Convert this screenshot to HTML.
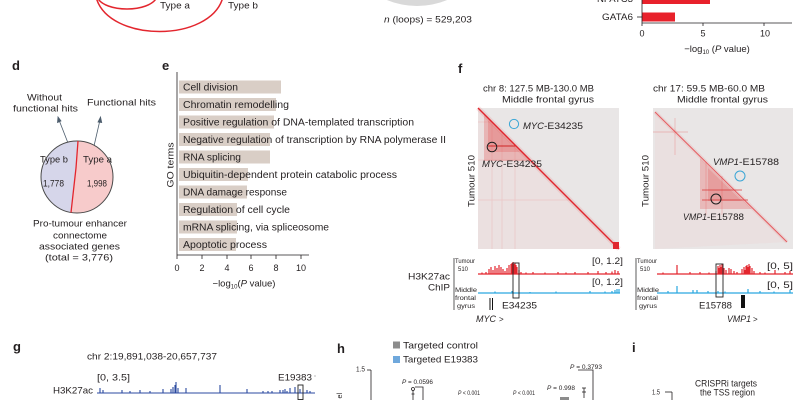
<!DOCTYPE html>
<html><head><meta charset="utf-8">
<style>
html,body{margin:0;padding:0;background:#fff;}
body{width:800px;height:400px;overflow:hidden;}
svg{display:block;}
svg text{font-family:"Liberation Sans",Arial,sans-serif;fill:#231f20;}
.b{font-weight:bold;}
.it{font-style:italic;}
</style></head>
<body>
<svg width="800" height="400" viewBox="0 0 800 400" xmlns="http://www.w3.org/2000/svg">
<rect width="800" height="400" fill="#fff"/>

<!-- ===== Top strip ===== -->
<path d="M96,-3 C108,43 211,43 223,-3" fill="none" stroke="#e3262e" stroke-width="1.5"/>
<path d="M97,-3 C104,13 150,13 157,-3" fill="none" stroke="#e3262e" stroke-width="1.5"/>
<text x="160" y="8.4" font-size="9.5" textLength="30" lengthAdjust="spacingAndGlyphs">Type a</text>
<text x="228" y="8.4" font-size="9.5" textLength="30" lengthAdjust="spacingAndGlyphs">Type b</text>

<circle cx="417" cy="-72" r="78" fill="#d9d9d9"/>
<circle cx="417" cy="-72" r="72" fill="#e2e2e2"/>
<text x="384" y="22.3" font-size="9" textLength="88" lengthAdjust="spacingAndGlyphs"><tspan class="it">n</tspan> (loops) = 529,203</text>

<!-- top-right bar chart -->
<rect x="642" y="-5" width="68" height="9" fill="#e8212b"/>
<rect x="642" y="12.5" width="33" height="9" fill="#e8212b"/>
<text x="597" y="2.2" font-size="9" textLength="36" lengthAdjust="spacingAndGlyphs">NFATC3</text>
<text x="602" y="20.2" font-size="9" textLength="31" lengthAdjust="spacingAndGlyphs">GATA6</text>
<g stroke="#231f20" stroke-width="0.8">
<line x1="637" y1="-1" x2="642" y2="-1"/>
<line x1="637" y1="17" x2="642" y2="17"/>
<line x1="642" y1="0" x2="642" y2="23"/>
<line x1="642" y1="23" x2="792" y2="23"/>
<line x1="642" y1="23" x2="642" y2="26"/>
<line x1="703" y1="23" x2="703" y2="26"/>
<line x1="764" y1="23" x2="764" y2="26"/>
</g>
<text x="642" y="36.5" font-size="9" text-anchor="middle">0</text>
<text x="703" y="36.5" font-size="9" text-anchor="middle">5</text>
<text x="765" y="36.5" font-size="9" text-anchor="middle">10</text>
<text x="717" y="52" font-size="9.5" text-anchor="middle">−log<tspan font-size="6" dy="2">10</tspan><tspan dy="-2"> (</tspan><tspan class="it">P</tspan> value)</text>

<!-- ===== Panel d ===== -->
<text class="b" x="12" y="70" font-size="13">d</text>
<text x="27" y="100.4" font-size="9.5" textLength="35" lengthAdjust="spacingAndGlyphs">Without</text>
<text x="13" y="111.4" font-size="9.5" textLength="65" lengthAdjust="spacingAndGlyphs">functional hits</text>
<text x="87" y="105.4" font-size="9.5" textLength="69" lengthAdjust="spacingAndGlyphs">Functional hits</text>
<g stroke="#4d5d6d" stroke-width="0.8" fill="#4d5d6d">
<line x1="68" y1="143" x2="59" y2="120"/>
<path d="M58,117 L57.5,122.5 L61,121 Z"/>
<line x1="94" y1="146" x2="100" y2="120"/>
<path d="M100.5,117 L98,122 L101.7,122.5 Z"/>
</g>
<path d="M78,141 A36,36 0 0 0 71,212.5 L76,168 Z" fill="#d6d6ea"/>
<path d="M78,141 A36,36 0 1 1 71,212.5 L76,168 Z" fill="#f7cbcb"/>
<circle cx="77" cy="177" r="36" fill="none" stroke="#4a4a4a" stroke-width="1"/>
<path d="M78,141 L76,168 L71,212.5" fill="none" stroke="#e3262e" stroke-width="1.3"/>
<text x="40" y="162.4" font-size="9.5" textLength="28" lengthAdjust="spacingAndGlyphs">Type b</text>
<text x="83" y="162.4" font-size="9.5" textLength="29" lengthAdjust="spacingAndGlyphs">Type a</text>
<text x="43" y="186.4" font-size="9.5" textLength="21" lengthAdjust="spacingAndGlyphs">1,778</text>
<text x="87" y="186.4" font-size="9.5" textLength="20" lengthAdjust="spacingAndGlyphs">1,998</text>
<text x="33" y="226.4" font-size="9.5" textLength="94" lengthAdjust="spacingAndGlyphs">Pro-tumour enhancer</text>
<text x="53" y="238.4" font-size="9.5" textLength="54" lengthAdjust="spacingAndGlyphs">connectome</text>
<text x="39" y="249.4" font-size="9.5" textLength="81" lengthAdjust="spacingAndGlyphs">associated genes</text>
<text x="45" y="260.4" font-size="9.5" textLength="68" lengthAdjust="spacingAndGlyphs">(total = 3,776)</text>

<!-- ===== Panel e ===== -->
<text class="b" x="162" y="70" font-size="13">e</text>
<text transform="translate(173.5,165) rotate(-90)" font-size="9.5" text-anchor="middle" textLength="45" lengthAdjust="spacingAndGlyphs">GO terms</text>
<g fill="#d9cec6">
<rect x="179" y="80.5" width="102" height="13"/>
<rect x="179" y="98" width="97" height="13"/>
<rect x="179" y="115.5" width="95" height="13"/>
<rect x="179" y="133" width="91" height="13"/>
<rect x="179" y="150.5" width="91" height="13"/>
<rect x="179" y="168" width="69" height="13"/>
<rect x="179" y="185.5" width="68" height="13"/>
<rect x="179" y="203" width="58" height="13"/>
<rect x="179" y="220.5" width="58" height="13"/>
<rect x="179" y="238" width="57" height="13"/>
</g>
<g font-size="10">
<text x="183" y="90.6" textLength="55" lengthAdjust="spacingAndGlyphs">Cell division</text>
<text x="183" y="108.1" textLength="106" lengthAdjust="spacingAndGlyphs">Chromatin remodelling</text>
<text x="183" y="125.6" textLength="231" lengthAdjust="spacingAndGlyphs">Positive regulation of DNA-templated transcription</text>
<text x="183" y="143.1" textLength="263" lengthAdjust="spacingAndGlyphs">Negative regulation of transcription by RNA polymerase II</text>
<text x="183" y="160.6" textLength="58" lengthAdjust="spacingAndGlyphs">RNA splicing</text>
<text x="183" y="178.1" textLength="214" lengthAdjust="spacingAndGlyphs">Ubiquitin-dependent protein catabolic process</text>
<text x="183" y="195.6" textLength="104" lengthAdjust="spacingAndGlyphs">DNA damage response</text>
<text x="183" y="213.1" textLength="107" lengthAdjust="spacingAndGlyphs">Regulation of cell cycle</text>
<text x="183" y="230.6" textLength="146" lengthAdjust="spacingAndGlyphs">mRNA splicing, via spliceosome</text>
<text x="183" y="248.1" textLength="84" lengthAdjust="spacingAndGlyphs">Apoptotic process</text>
</g>
<g stroke="#231f20" stroke-width="0.8">
<line x1="177" y1="72" x2="177" y2="255"/>
<line x1="177" y1="255" x2="309" y2="255"/>
<line x1="177" y1="255" x2="177" y2="259"/>
<line x1="202" y1="255" x2="202" y2="259"/>
<line x1="227" y1="255" x2="227" y2="259"/>
<line x1="251" y1="255" x2="251" y2="259"/>
<line x1="276" y1="255" x2="276" y2="259"/>
<line x1="301" y1="255" x2="301" y2="259"/>
</g>
<g font-size="9" text-anchor="middle">
<text x="177" y="271">0</text><text x="202" y="271">2</text><text x="227" y="271">4</text>
<text x="251" y="271">6</text><text x="276" y="271">8</text><text x="301" y="271">10</text>
</g>
<text x="244" y="286.5" font-size="9.5" text-anchor="middle">−log<tspan font-size="6" dy="2">10</tspan><tspan dy="-2">(</tspan><tspan class="it">P</tspan> value)</text>

<!-- ===== Panel f ===== -->
<text class="b" x="458" y="73" font-size="13">f</text>
<text x="483" y="91.4" font-size="9.5" textLength="111" lengthAdjust="spacingAndGlyphs">chr 8: 127.5 MB-130.0 MB</text>
<text x="502" y="102.4" font-size="9.5" textLength="92" lengthAdjust="spacingAndGlyphs">Middle frontal gyrus</text>
<text x="653" y="91.4" font-size="9.5" textLength="112" lengthAdjust="spacingAndGlyphs">chr 17: 59.5 MB-60.0 MB</text>
<text x="677" y="102.4" font-size="9.5" textLength="91" lengthAdjust="spacingAndGlyphs">Middle frontal gyrus</text>
<text transform="translate(474.5,181) rotate(-90)" font-size="9.5" text-anchor="middle" textLength="52" lengthAdjust="spacingAndGlyphs">Tumour 510</text>
<text transform="translate(648.5,181) rotate(-90)" font-size="9.5" text-anchor="middle" textLength="52" lengthAdjust="spacingAndGlyphs">Tumour 510</text>

<!-- left heatmap -->
<rect x="478" y="108" width="141" height="141" fill="#e9e6e6"/>
<polygon points="478,108 619,249 478,249" fill="#efcfcf" opacity="0.28"/>
<g stroke="#eab0b0" stroke-width="0.8" opacity="0.55">
<line x1="492" y1="122" x2="492" y2="249"/>
<line x1="502" y1="132" x2="502" y2="249"/>
<line x1="515" y1="145" x2="515" y2="249"/>
<line x1="478" y1="122" x2="492" y2="122"/>
<line x1="478" y1="160" x2="530" y2="160"/>
<line x1="478" y1="200" x2="570" y2="200"/>
</g>
<polygon points="484,113 532,161 484,161" fill="#e44848" opacity="0.28"/>
<polygon points="488,120 520,152 488,152" fill="#e03030" opacity="0.2"/>
<line x1="488" y1="146" x2="516" y2="146" stroke="#d02525" stroke-width="1"/>
<line x1="478" y1="108" x2="619" y2="249" stroke="#e44848" stroke-width="5" opacity="0.13"/>
<line x1="478" y1="108" x2="619" y2="249" stroke="#e0262e" stroke-width="1.4"/>
<rect x="613" y="242" width="6" height="7" fill="#e0262e"/>
<circle cx="514" cy="124" r="4.6" fill="none" stroke="#3aa6d6" stroke-width="1"/>
<circle cx="492" cy="147" r="4.8" fill="none" stroke="#1e1e1e" stroke-width="1"/>
<text class="it" x="523" y="129.2" font-size="9" textLength="21" lengthAdjust="spacingAndGlyphs">MYC</text>
<text x="544" y="129.2" font-size="9" textLength="39" lengthAdjust="spacingAndGlyphs">-E34235</text>
<text class="it" x="482" y="167.2" font-size="9" textLength="21" lengthAdjust="spacingAndGlyphs">MYC</text>
<text x="503" y="167.2" font-size="9" textLength="39" lengthAdjust="spacingAndGlyphs">-E34235</text>

<!-- right heatmap -->
<rect x="653" y="108" width="140" height="141" fill="#e9e6e6"/>
<polygon points="655,112 787,242 655,249" fill="#efcfcf" opacity="0.22"/>
<g stroke="#e8a0a0" stroke-width="0.9" opacity="0.65">
<line x1="653" y1="132" x2="688" y2="132"/>
<line x1="675" y1="118" x2="675" y2="155"/>
<line x1="706" y1="162" x2="706" y2="215"/>
<line x1="722" y1="176" x2="722" y2="215"/>
</g>
<polygon points="700,158 752,209 700,209" fill="#e44848" opacity="0.26"/>
<polygon points="708,168 742,201 708,201" fill="#e03030" opacity="0.2"/>
<line x1="702" y1="190" x2="742" y2="190" stroke="#d83030" stroke-width="0.9" opacity="0.7"/>
<line x1="702" y1="200" x2="748" y2="200" stroke="#d83030" stroke-width="0.9" opacity="0.7"/>
<line x1="655" y1="112" x2="787" y2="242" stroke="#e44848" stroke-width="4" opacity="0.1"/>
<line x1="655" y1="112" x2="787" y2="242" stroke="#e4343a" stroke-width="1" opacity="0.75"/>
<circle cx="740" cy="176" r="5" fill="none" stroke="#3aa6d6" stroke-width="1"/>
<circle cx="716" cy="199" r="5" fill="none" stroke="#1e1e1e" stroke-width="1"/>
<text class="it" x="713" y="165.2" font-size="9" textLength="26" lengthAdjust="spacingAndGlyphs">VMP1</text>
<text x="739" y="165.2" font-size="9" textLength="40" lengthAdjust="spacingAndGlyphs">-E15788</text>
<text class="it" x="683" y="220.2" font-size="9" textLength="24" lengthAdjust="spacingAndGlyphs">VMP1</text>
<text x="707" y="220.2" font-size="9" textLength="37" lengthAdjust="spacingAndGlyphs">-E15788</text>

<!-- tracks -->
<text x="408" y="279.4" font-size="9.5" textLength="42" lengthAdjust="spacingAndGlyphs">H3K27ac</text>
<text x="428" y="290.4" font-size="9.5" textLength="22" lengthAdjust="spacingAndGlyphs">ChIP</text>
<line x1="454" y1="258" x2="454" y2="310" stroke="#333" stroke-width="0.8"/>
<line x1="636" y1="258" x2="636" y2="310" stroke="#333" stroke-width="0.8"/>
<g font-size="6">
<text x="455" y="263.2" textLength="20" lengthAdjust="spacingAndGlyphs">Tumour</text>
<text x="458" y="271.2" textLength="10" lengthAdjust="spacingAndGlyphs">510</text>
<text x="455" y="292.2" textLength="22" lengthAdjust="spacingAndGlyphs">Middle</text>
<text x="455" y="300.2" textLength="21" lengthAdjust="spacingAndGlyphs">frontal</text>
<text x="457" y="308.2" textLength="18" lengthAdjust="spacingAndGlyphs">gyrus</text>
<text x="637" y="263.2" textLength="20" lengthAdjust="spacingAndGlyphs">Tumour</text>
<text x="640" y="271.2" textLength="10" lengthAdjust="spacingAndGlyphs">510</text>
<text x="637" y="292.2" textLength="22" lengthAdjust="spacingAndGlyphs">Middle</text>
<text x="637" y="300.2" textLength="21" lengthAdjust="spacingAndGlyphs">frontal</text>
<text x="639" y="308.2" textLength="18" lengthAdjust="spacingAndGlyphs">gyrus</text>
</g>
<text x="592" y="264.2" font-size="9" textLength="31" lengthAdjust="spacingAndGlyphs">[0, 1.2]</text>
<text x="592" y="285.2" font-size="9" textLength="31" lengthAdjust="spacingAndGlyphs">[0, 1.2]</text>
<text x="767" y="269.2" font-size="9" textLength="26" lengthAdjust="spacingAndGlyphs">[0, 5]</text>
<text x="767" y="288.2" font-size="9" textLength="26" lengthAdjust="spacingAndGlyphs">[0, 5]</text>

<!-- left red track -->
<g stroke="#e3262e" stroke-width="1.2" fill="none">
<line x1="478" y1="274" x2="620" y2="274"/>
<path d="M482,274v-1.5M486,274v-2M489,274v-5M491,274v-7M493,274v-4M495,274v-8M497,274v-6M499,274v-9M501,274v-7M503,274v-5M505,274v-3M507,274v-6M509,274v-9M511,274v-10M512,274v-11M513,274v-12M514,274v-10M515,274v-11M516,274v-9M517,274v-7M519,274v-4M521,274v-2M526,274v-1.5M533,274v-2M545,274v-1.5M558,274v-2M566,274v-1.5M575,274v-2M588,274v-2M598,274v-3M606,274v-2M612,274v-2.5M615,274v-4M618,274v-3"/>
</g>
<g stroke="#2aa8e0" stroke-width="1.2" fill="none">
<line x1="478" y1="293" x2="620" y2="293"/>
<path d="M495,293v-1.5M512,293v-2M530,293v-1M556,293v-1.5M590,293v-2M605,293v-1.5M612,293v-2M615,293v-3M617,293v-4M619,293v-4"/>
</g>
<!-- right red track -->
<g stroke="#e3262e" stroke-width="1.2" fill="none">
<line x1="657" y1="274" x2="793" y2="274"/>
<path d="M663,274v-1.5M677,274v-9M690,274v-2M700,274v-2M709,274v-1.5M716,274v-3M718,274v-8M719,274v-6M720,274v-9M721,274v-7M722,274v-10M724,274v-6M726,274v-4M729,274v-6M731,274v-5M734,274v-3M737,274v-2M742,274v-5M744,274v-7M745,274v-4M746,274v-8M747,274v-9M748,274v-7M749,274v-10M750,274v-8M752,274v-6M754,274v-3M760,274v-2M765,274v-1.5M775,274v-4M785,274v-2M790,274v-3"/>
</g>
<g stroke="#2aa8e0" stroke-width="1.2" fill="none">
<line x1="657" y1="293" x2="793" y2="293"/>
<path d="M668,293v-2M677,293v-7M693,293v-3M697,293v-3M708,293v-2M718,293v-2M725,293v-1.5M748,293v-4M760,293v-2M774,293v-1.5M790,293v-3"/>
</g>
<rect x="513" y="263" width="6" height="35" fill="none" stroke="#222" stroke-width="0.9"/>
<rect x="716" y="264" width="7" height="33" fill="none" stroke="#222" stroke-width="0.9"/>
<line x1="490" y1="298" x2="490" y2="310" stroke="#111" stroke-width="1"/>
<line x1="492.5" y1="298" x2="492.5" y2="310" stroke="#111" stroke-width="1"/>
<rect x="741" y="295" width="4" height="13" fill="#111"/>
<text x="502" y="308.4" font-size="9.5" textLength="35" lengthAdjust="spacingAndGlyphs">E34235</text>
<text x="699" y="308.4" font-size="9.5" textLength="33" lengthAdjust="spacingAndGlyphs">E15788</text>
<text class="it" x="476" y="322.2" font-size="9" textLength="20" lengthAdjust="spacingAndGlyphs">MYC</text>
<text x="499" y="322.2" font-size="8">&gt;</text>
<text class="it" x="727" y="322.2" font-size="9" textLength="24" lengthAdjust="spacingAndGlyphs">VMP1</text>
<text x="753" y="322.2" font-size="8">&gt;</text>

<!-- ===== Panel g ===== -->
<text class="b" x="13" y="351" font-size="13">g</text>
<text x="87" y="359.4" font-size="9.5" textLength="130" lengthAdjust="spacingAndGlyphs">chr 2:19,891,038-20,657,737</text>
<text x="97" y="380.4" font-size="9.5" textLength="33" lengthAdjust="spacingAndGlyphs">[0, 3.5]</text>
<text x="278" y="380.4" font-size="9.5" textLength="34" lengthAdjust="spacingAndGlyphs">E19383</text>
<text x="53" y="393.4" font-size="9.5" textLength="40" lengthAdjust="spacingAndGlyphs">H3K27ac</text>
<g stroke="#2b4aa0" stroke-width="1.1" fill="none">
<line x1="97" y1="393" x2="315" y2="393"/>
<path d="M100,393v-5M103,393v-3M122,393v-3M130,393v-2M140,393v-3M150,393v-2M163,393v-4M171,393v-4M173,393v-6M175,393v-8M176,393v-11M178,393v-5M186,393v-5M220,393v-8M247,393v-4M263,393v-2M268,393v-2M272,393v-2M280,393v-3M283,393v-3M285,393v-4M287,393v-2M290,393v-5M295,393v-6M300,393v-4M307,393v-3M310,393v-2"/>
</g>
<rect x="298" y="385" width="5" height="14.5" fill="none" stroke="#222" stroke-width="0.9"/>
<circle cx="315" cy="376" r="0.6" fill="#888"/>

<!-- ===== Panel h ===== -->
<text class="b" x="337" y="353" font-size="13">h</text>
<rect x="393" y="341.5" width="7" height="7" fill="#8c8c8c"/>
<rect x="393" y="356" width="7" height="7" fill="#6fa8dc"/>
<text x="403" y="348.4" font-size="9.5" textLength="75" lengthAdjust="spacingAndGlyphs">Targeted control</text>
<text x="403" y="362.4" font-size="9.5" textLength="75" lengthAdjust="spacingAndGlyphs">Targeted E19383</text>
<text x="356" y="371.7" font-size="7.5" textLength="9" lengthAdjust="spacingAndGlyphs">1.5</text>
<g stroke="#231f20" stroke-width="0.8" fill="none">
<line x1="367" y1="370" x2="371" y2="370"/>
<line x1="371" y1="370" x2="371" y2="400"/>
<path d="M415,387 H423 V400"/>
<line x1="413" y1="390" x2="413" y2="400"/>
<line x1="411.5" y1="394" x2="414.5" y2="394"/>
<circle cx="413" cy="389" r="1.5"/>
<path d="M578,370 H593 V400"/>
<line x1="584" y1="388" x2="584" y2="398"/>
<line x1="582" y1="388" x2="586" y2="388"/>
<line x1="582" y1="392" x2="586" y2="392"/>
</g>
<rect x="560" y="397" width="9" height="3" fill="#8c8c8c"/>
<g font-size="6">
<text x="402" y="384.2" textLength="31" lengthAdjust="spacingAndGlyphs"><tspan class="it">P</tspan> = 0.0596</text>
<text x="458" y="395.2" textLength="22" lengthAdjust="spacingAndGlyphs"><tspan class="it">P</tspan> &lt; 0.001</text>
<text x="513" y="395.2" textLength="22" lengthAdjust="spacingAndGlyphs"><tspan class="it">P</tspan> &lt; 0.001</text>
<text x="547" y="390.2" textLength="28" lengthAdjust="spacingAndGlyphs"><tspan class="it">P</tspan> = 0.998</text>
<text x="570" y="369.2" textLength="32" lengthAdjust="spacingAndGlyphs"><tspan class="it">P</tspan> = 0.3793</text>
</g>
<text transform="translate(342,393) rotate(-90)" font-size="7" text-anchor="end">el</text>

<!-- ===== Panel i ===== -->
<text class="b" x="632" y="352" font-size="13">i</text>
<text x="695" y="386.4" font-size="9.5" textLength="62" lengthAdjust="spacingAndGlyphs">CRISPRi targets</text>
<text x="700" y="395.4" font-size="9.5" textLength="55" lengthAdjust="spacingAndGlyphs">the TSS region</text>
<text x="652" y="394.7" font-size="7.5" textLength="8" lengthAdjust="spacingAndGlyphs">1.5</text>
<g stroke="#231f20" stroke-width="0.8">
<line x1="665" y1="392" x2="672" y2="392"/>
<line x1="672" y1="392" x2="672" y2="400"/>
</g>
</svg>
</body></html>
